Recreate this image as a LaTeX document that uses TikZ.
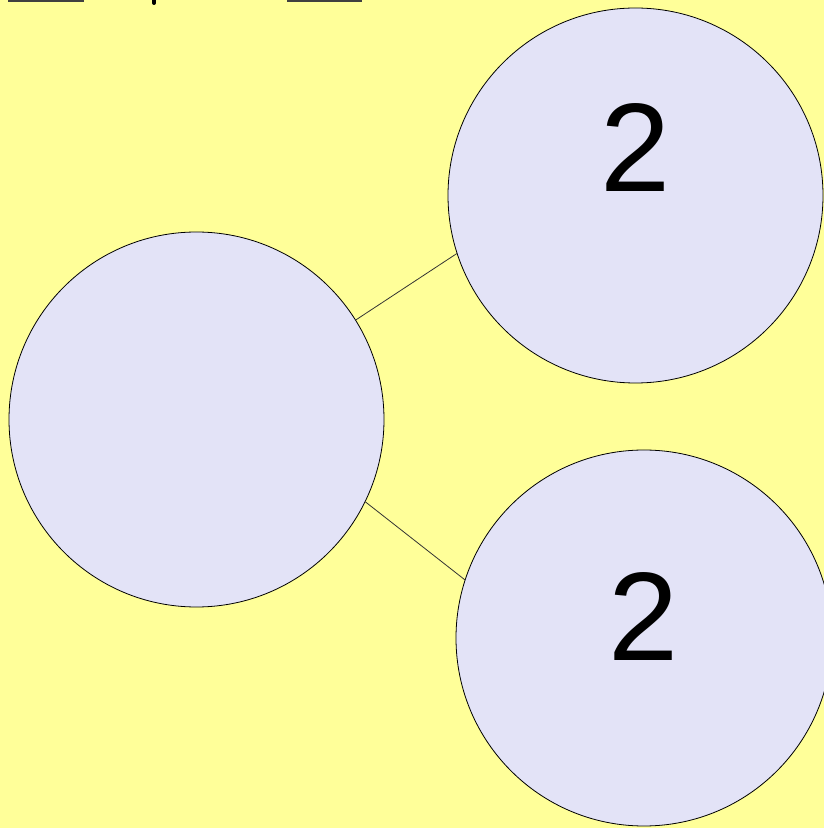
\documentclass[tikz,border=0pt]{standalone}
\usepackage{fontspec}
\setmainfont{Liberation Sans}
\definecolor{paper}{RGB}{255,255,153}
\definecolor{disc}{RGB}{227,227,247}
\tikzset{
  part/.style={circle, draw=black, fill=disc, line width=0.8pt, inner sep=0pt, minimum size=375pt},
  digit/.style={anchor=center, inner sep=0pt, font=\fontsize{126}{126}\selectfont},
  link/.style={draw=black!80, line width=0.8pt},
  blank/.style={draw=black!75, line width=2.5pt}
}
\begin{document}
\begin{tikzpicture}[x=1pt,y=1pt]
\useasboundingbox[fill=paper] (0,0) rectangle (824,828);
\clip (0,0) rectangle (824,828);
\draw[blank] (8,827.5) -- (84,827.5);
\draw[blank] (287,827.5) -- (362,827.5);
\draw[line width=4pt, line cap=round] (154,829) -- (154,825);
\node[part] (whole) at (196.5,408.5) {};
\node[part] (top) at (635.5,632.5) {};
\node[part, minimum size=376pt] (bottom) at (644,190) {};
\node[digit] (topnum) at ([yshift=48pt]top.center) {2};
\node[digit] (botnum) at ([yshift=21pt]bottom.center) {2};
\draw[link] (whole.32.9) -- (top.198.1);
\draw[link] (whole.-26.5) -- (bottom.162.8);
\end{tikzpicture}
\end{document}
